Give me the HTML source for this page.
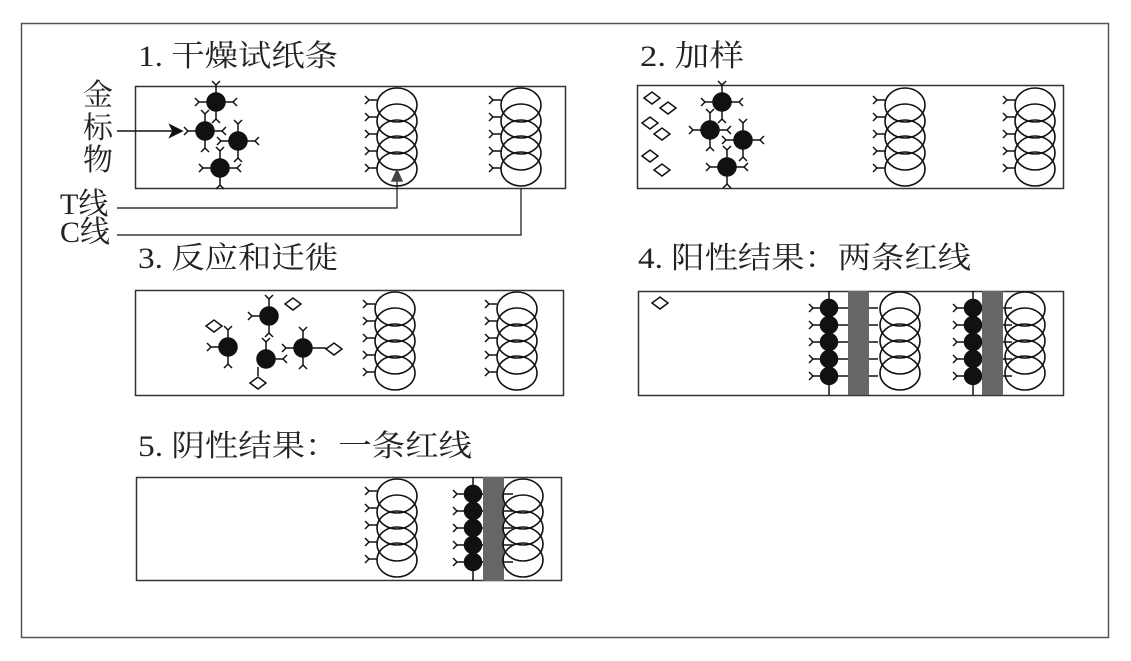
<!DOCTYPE html>
<html><head><meta charset="utf-8"><style>
html,body{margin:0;padding:0;background:#fff;}
svg{display:block;}
text{font-family:"Liberation Serif","Noto Serif CJK SC",serif;fill:#222;}
</style></head><body>
<svg id="s" width="1131" height="661" viewBox="0 0 1131 661" xmlns="http://www.w3.org/2000/svg">
<rect x="0" y="0" width="1131" height="661" fill="#fff"/>
<rect x="21.5" y="23.5" width="1087" height="614" fill="none" stroke="#555" stroke-width="1.5"/>
<g font-size="30">
<text x="138" y="66" textLength="200" lengthAdjust="spacingAndGlyphs">1. 干燥试纸条</text>
<text x="640" y="66" textLength="104" lengthAdjust="spacingAndGlyphs">2. 加样</text>
<text x="138" y="268" textLength="200" lengthAdjust="spacingAndGlyphs">3. 反应和迁徙</text>
<text x="638" y="268" textLength="333" lengthAdjust="spacingAndGlyphs">4. 阳性结果：两条红线</text>
<text x="138" y="456" textLength="334" lengthAdjust="spacingAndGlyphs">5. 阴性结果：一条红线</text>
<text x="83" y="105" font-size="30">金</text>
<text x="83" y="138" font-size="30">标</text>
<text x="83" y="170" font-size="30">物</text>
<text x="60" y="214" font-size="30">T线</text>
<text x="60" y="242" font-size="30">C线</text>
</g>
<g id="g" fill="none" stroke="#111" stroke-width="1.5"></g>
</svg>
<script>
var g=document.getElementById('g'),NS='http://www.w3.org/2000/svg';
function el(t,a){var e=document.createElementNS(NS,t);for(var k in a)e.setAttribute(k,a[k]);g.appendChild(e);return e;}
function strip(x,y,w,h){el('rect',{x:x+.5,y:y+.5,width:w,height:h,stroke:'#333','stroke-width':1.5});}
function coil(cx,top){for(var i=0;i<5;i++)el('ellipse',{cx:cx,cy:top+17+i*16,rx:20,ry:17,'stroke-width':1.6});}
function Y(x,y,dx,dy){
 var ex=x+dx*8,ey=y+dy*8;el('line',{x1:x,y1:y,x2:ex,y2:ey});
 var px=-dy,py=dx;
 el('line',{x1:ex,y1:ey,x2:ex+dx*4+px*4,y2:ey+dy*4+py*4});
 el('line',{x1:ex,y1:ey,x2:ex+dx*4-px*4,y2:ey+dy*4-py*4});}
function abs(x,top){for(var i=0;i<5;i++)Y(x,top+12+i*17,-1,0);}
function gold(cx,cy,dirs){el('circle',{cx:cx,cy:cy,r:9,fill:'#111',stroke:'#111'});
 (dirs||[[1,0],[-1,0],[0,1],[0,-1]]).forEach(function(d){Y(cx+d[0]*9,cy+d[1]*9,d[0],d[1]);});}
function diamond(x,y){el('path',{d:'M'+(x-8)+' '+y+' L'+x+' '+(y-6)+' L'+(x+8)+' '+y+' L'+x+' '+(y+6)+'Z'});}
function bound(x,top,bar){
 for(var i=0;i<5;i++){var cy=top+17+i*17;el('circle',{cx:x,cy:cy,r:8.5,fill:'#111',stroke:'#111'});Y(x-8,cy,-1,0);el('line',{x1:x+8,y1:cy,x2:bar+30,y2:cy});}
 el('line',{x1:x,y1:top,x2:x,y2:top+104});
 el('rect',{x:bar,y:top,width:21,height:104,fill:'#666',stroke:'none'});}
strip(135,86,430,102);
[[216,102],[205,131],[238,141],[220,168]].forEach(function(p){gold(p[0],p[1]);});
abs(377,88);coil(397,88);abs(501,88);coil(521,88);
el('line',{x1:117,y1:131,x2:176,y2:131});
el('path',{d:'M182 131 L170 125 L173 131 L170 137Z',fill:'#111'});
el('polyline',{points:'117,208 397,208 397,178','stroke-width':1.2});
el('path',{d:'M397 170 L392 181 L402 181Z',fill:'#444',stroke:'#444'});
el('polyline',{points:'117,235 521,235 521,188','stroke-width':1.2});
strip(637,85,426,103);
[[652,98],[668,108],[650,123],[662,134],[650,156],[662,170]].forEach(function(p){diamond(p[0],p[1]);});
[[722,102],[710,130],[743,140],[727,167]].forEach(function(p){gold(p[0],p[1]);});
abs(885,88);coil(905,88);abs(1015,88);coil(1035,88);
strip(135,290,428,105);
gold(269,316,[[-1,0],[0,1],[0,-1]]);diamond(293,304);
gold(228,347,[[-1,0],[0,1],[0,-1]]);diamond(214,326);
gold(266,359,[[1,0],[0,-1]]);diamond(258,383);
gold(303,348,[[-1,0],[0,1],[0,-1]]);diamond(334,349);
el('line',{x1:311,y1:348,x2:326,y2:348});el('line',{x1:258,y1:367,x2:258,y2:376});
abs(375,292);coil(395,292);abs(497,292);coil(517,292);
strip(638,291,425,104);
diamond(660,303);
bound(829,291,848);coil(900,292);
bound(973,291,982);coil(1025,292);
strip(136,477,425,103);
abs(377,479);coil(397,479);
bound(473,477,483);coil(523,479);
</script>
</body></html>
